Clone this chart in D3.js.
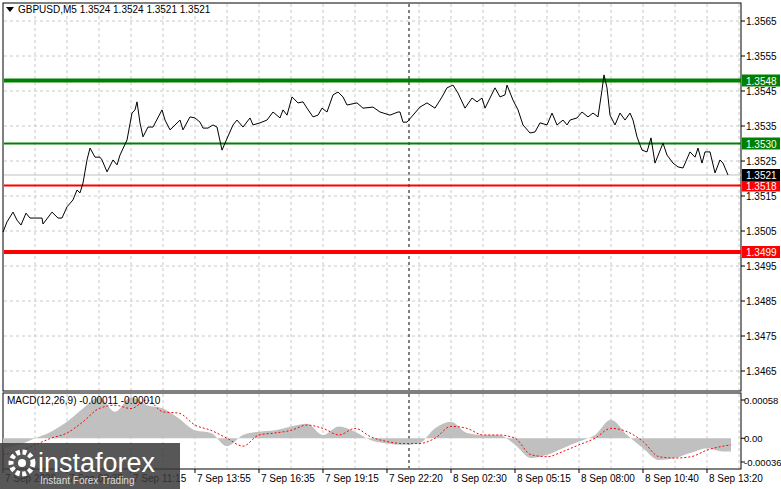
<!DOCTYPE html>
<html><head><meta charset="utf-8">
<script src="https://cdn.jsdelivr.net/npm/d3@7"></script>
<style>body{margin:0;background:#fff}svg{display:block}text{font-family:"Liberation Sans",Arial,sans-serif}</style>
</head><body><svg id="c" width="781" height="489"></svg>
<script>
const priceIdx=[0,2,5,7,9,11.5,13.5,19.5,20,24.5,27.5,29.5,32,35,37,38.5,40,42,43.5,46,48.5,49.5,52,55,57,58.5,62,64.5,66,67,68.5,70,72.5,75,79.5,81,83.5,85,88.5,90,93.5,96,98.5,100,102.5,105,107,109.5,111,115,117,120,123.5,125,128.5,132,135,138.5,140,142,144.5,147.5,150,152,155,157.5,159.5,162,165,167.5,170,172,177,180,185,188.5,193.5,197.5,198.5,200,202,205,208.5,212,216,219.5,222,225,227.5,231,234.5,237,239.5,241,243.5,246,248.5,251,252,255,257.5,260,263.5,266,268.5,272,274.5,277,280,282,283.5,287,289.5,292.5,295,297.5,299.5,300.5,302,303.5,306,308.5,311,313.5,315,317,319.5,322,324,326,330,332,335,337.5,340,343.5,346,347.5,349.5,351,353.5,356,358.5,360,362.5];
const priceVal=[1.35047,1.35076,1.35104,1.35081,1.35067,1.35101,1.35087,1.35087,1.35070,1.35104,1.35087,1.35087,1.35119,1.35139,1.35167,1.35159,1.35187,1.35253,1.35287,1.35261,1.35261,1.35253,1.35219,1.35253,1.35239,1.35267,1.35310,1.35387,1.35396,1.35419,1.35359,1.35319,1.35347,1.35347,1.35396,1.35367,1.35339,1.35347,1.35367,1.35339,1.35376,1.35373,1.35361,1.35344,1.35344,1.35353,1.35347,1.35281,1.35301,1.35353,1.35367,1.35347,1.35373,1.35353,1.35359,1.35367,1.35390,1.35373,1.35396,1.35381,1.35433,1.35416,1.35419,1.35401,1.35376,1.35381,1.35401,1.35390,1.35439,1.35447,1.35433,1.35410,1.35416,1.35401,1.35404,1.35390,1.35381,1.35390,1.35390,1.35361,1.35361,1.35381,1.35404,1.35416,1.35401,1.35433,1.35459,1.35467,1.35444,1.35401,1.35430,1.35419,1.35430,1.35401,1.35430,1.35459,1.35433,1.35439,1.35467,1.35424,1.35396,1.35353,1.35330,1.35333,1.35359,1.35353,1.35387,1.35353,1.35367,1.35353,1.35367,1.35373,1.35390,1.35376,1.35387,1.35376,1.35453,1.35496,1.35459,1.35381,1.35353,1.35387,1.35367,1.35387,1.35367,1.35319,1.35281,1.35276,1.35316,1.35244,1.35301,1.35267,1.35244,1.35233,1.35230,1.35276,1.35261,1.35287,1.35244,1.35276,1.35276,1.35216,1.35253,1.35244,1.35210];
const priceTicks=[1.3565,1.3555,1.3545,1.3535,1.3525,1.3515,1.3505,1.3495,1.3485,1.3475,1.3465];
const levels=[{v:1.3548,c:"#008000",w:4},{v:1.3530,c:"#008000",w:2},{v:1.3518,c:"#ff0000",w:2},{v:1.3499,c:"#ff0000",w:4}];
const lastPrice=1.3521;
const timeIdx=[0,32,64,96,128,160,192,224,256,288,320,352];
const timeLabels=["7 Sep 2026","7 Sep 08:35","7 Sep 11:15","7 Sep 13:55","7 Sep 16:35","7 Sep 19:15","7 Sep 22:20","8 Sep 02:30","8 Sep 05:15","8 Sep 08:00","8 Sep 10:40","8 Sep 13:20"];
const macdIdx=[0,8,16,24,32,40,48,56,64,72,80,88,96,104,112,120,128,136,144,152,160,168,176,184,192,200,208,216,224,232,240,248,256,264,272,280,288,296,304,312,320,328,336,344,352,360,364];
const macdHist=[-15,-10,0,10,25,45,62,40,62,50,45,30,12,8,-12,5,10,12,18,22,5,18,10,-3,-8,-10,-8,15,25,8,5,5,-10,-30,-25,-15,-5,5,28,5,-15,-33,-30,-22,-15,-20,-20];
const macdSignal=[-25,-20,-10,0,8,25,45,50,45,58,40,38,20,12,0,-12,5,8,12,20,15,5,15,2,-5,-8,-8,0,18,15,5,5,0,-25,-28,-20,-10,0,15,10,-5,-28,-30,-28,-18,-12,-10];
const macdTicks=[0.00058,0,-0.00036];

const svg=d3.select("#c");
const L=3,R=741,T=3,B=391,MT=393,MB=469;
const x=d3.scaleLinear().domain([0,369]).range([L,R]);
const y=d3.scaleLinear().domain([1.3465,1.3565]).range([371,21]);
const ym=d3.scaleLinear().domain([-0.00036,0.00058]).range([462,400]);
const grid="#c8c8c8";
svg.append("rect").attr("x",L).attr("y",T).attr("width",R-L).attr("height",B-T).attr("fill","none").attr("stroke","#000");
svg.append("rect").attr("x",L).attr("y",MT).attr("width",R-L).attr("height",MB-MT).attr("fill","none").attr("stroke","#000");
for(let i=16;i<369;i+=16){
  [[T,B],[MT,MB]].forEach(([a,b])=>svg.append("line").attr("x1",x(i)).attr("x2",x(i)).attr("y1",a+1).attr("y2",b-1).attr("stroke",grid).attr("stroke-dasharray","3,3"));
}
priceTicks.forEach(t=>{
  svg.append("line").attr("x1",L+1).attr("x2",R-1).attr("y1",y(t)).attr("y2",y(t)).attr("stroke",grid).attr("stroke-dasharray","3,3");
  svg.append("line").attr("x1",R).attr("x2",R+4).attr("y1",y(t)).attr("y2",y(t)).attr("stroke","#000");
  svg.append("text").attr("x",746).attr("y",y(t)+4).attr("font-size",10).text(t.toFixed(4));
});
[[T,B],[MT,MB]].forEach(([a,b])=>svg.append("line").attr("x1",x(203)).attr("x2",x(203)).attr("y1",a+1).attr("y2",b-1).attr("stroke","#000").attr("stroke-dasharray","3,3"));
svg.append("line").attr("x1",L+1).attr("x2",R).attr("y1",y(lastPrice)).attr("y2",y(lastPrice)).attr("stroke","#c0c0c0");
levels.forEach(l=>svg.append("line").attr("x1",L+1).attr("x2",R).attr("y1",y(l.v)).attr("y2",y(l.v)).attr("stroke",l.c).attr("stroke-width",l.w));
svg.append("path").datum(priceIdx.map((d,i)=>[d,priceVal[i]])).attr("fill","none").attr("stroke","#000").attr("stroke-width",1)
  .attr("d",d3.line().x(d=>x(d[0])).y(d=>y(d[1])));
const boxes=levels.map(l=>({v:l.v,c:l.c})).concat([{v:lastPrice,c:"#000"}]);
boxes.forEach(b=>{
  svg.append("rect").attr("x",R+1).attr("y",y(b.v)-6).attr("width",38).attr("height",12).attr("fill",b.c);
  svg.append("text").attr("x",746).attr("y",y(b.v)+4).attr("font-size",10).attr("fill","#fff").text(b.v.toFixed(4));
});
svg.append("path").attr("d","M6,7 L14,7 L10,12 Z").attr("fill","#000");
svg.append("text").attr("x",18).attr("y",13).attr("font-size",10).text("GBPUSD,M5  1.3524 1.3524 1.3521 1.3521");
const md=macdIdx.map((d,i)=>({i:d,h:macdHist[i]*1e-5,s:macdSignal[i]*1e-5}));
svg.append("path").datum(md).attr("fill","#c0c0c0")
  .attr("d",d3.area().curve(d3.curveMonotoneX).x(d=>x(d.i)).y0(ym(0)).y1(d=>ym(d.h)));
svg.append("path").datum(md).attr("fill","none").attr("stroke","#ff0000").attr("stroke-dasharray","2,2")
  .attr("d",d3.line().curve(d3.curveMonotoneX).x(d=>x(d.i)).y(d=>ym(d.s)));
macdTicks.forEach(t=>{
  svg.append("line").attr("x1",R).attr("x2",R+4).attr("y1",ym(t)).attr("y2",ym(t)).attr("stroke","#000");
  svg.append("text").attr("x",744).attr("y",ym(t)+4).attr("font-size",9.5).text(t===0?"0.00":t.toFixed(5));
});
svg.append("text").attr("x",7).attr("y",404).attr("font-size",10).text("MACD(12,26,9) -0.00011 -0.00010");
timeIdx.forEach((t,i)=>{
  svg.append("line").attr("x1",x(t)).attr("x2",x(t)).attr("y1",MB).attr("y2",MB+4).attr("stroke","#000");
  svg.append("text").attr("x",x(t)+2).attr("y",482).attr("font-size",10).text(timeLabels[i]);
});
const g=svg.append("g");
g.append("rect").attr("x",0).attr("y",443).attr("width",180).attr("height",46).attr("fill","#3a3a3a").attr("opacity",0.85);
g.append("circle").attr("cx",22).attr("cy",463).attr("r",11).attr("fill","none").attr("stroke","#fff").attr("stroke-width",5).attr("stroke-dasharray","4,2.5");
g.append("circle").attr("cx",22).attr("cy",463).attr("r",4).attr("fill","#fff");
g.append("text").attr("x",38).attr("y",472).attr("font-size",27).attr("fill","#fff").text("instaforex");
g.append("text").attr("x",40).attr("y",484).attr("font-size",10).attr("fill","#ddd").text("Instant Forex Trading");
</script></body></html>
